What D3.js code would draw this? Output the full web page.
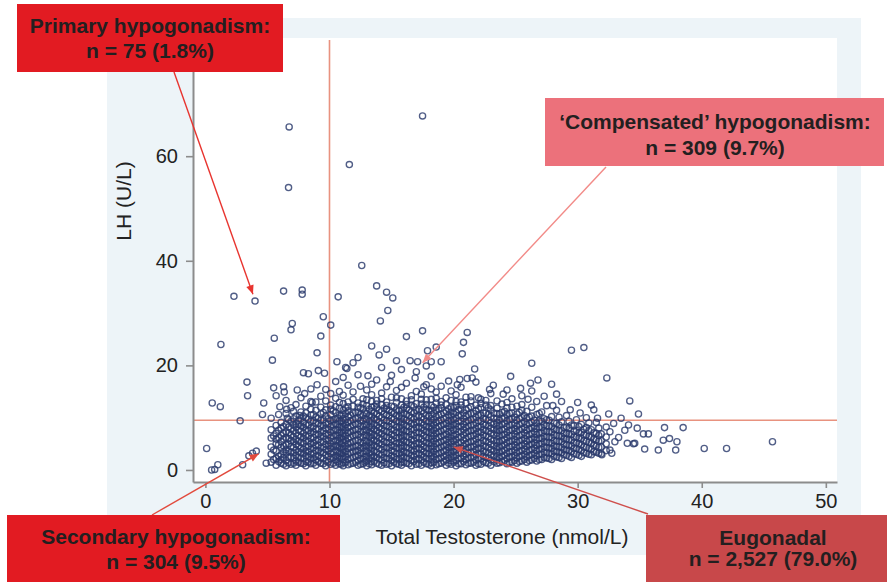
<!DOCTYPE html>
<html><head><meta charset="utf-8">
<script src="https://cdn.jsdelivr.net/npm/d3@7"></script>
<style>html,body{margin:0;padding:0;background:#fff;} svg{display:block;}</style>
</head><body>
<svg id="chart" width="887" height="582"></svg>
<script>
// ---------------- data ----------------
const xTicks = [0, 10, 20, 30, 40, 50];
const yTicks = [0, 20, 40, 60];
const tCut = 10;      // testosterone threshold (nmol/L)
const lhCut = 9.5;    // LH threshold (U/L)
const xTitle = "Total Testosterone (nmol/L)";
const yTitle = "LH (U/L)";
const primaryLabel = ["Primary hypogonadism:", "n = 75 (1.8%)"];
const compensatedLabel = ["\u2018Compensated\u2019 hypogonadism:", "n = 309 (9.7%)"];
const secondaryLabel = ["Secondary hypogonadism:", "n = 304 (9.5%)"];
const eugonadalLabel = ["Eugonadal", "n = 2,527 (79.0%)"];

// individually read points [T, LH]
const outliers = [
 [6.75,65.6],[6.7,54.0],[17.5,67.7],[11.6,58.4],[12.6,39.1],[13.8,35.2],[14.6,34.0],[15.1,32.9],
 [10.7,33.1],[7.8,34.4],[7.8,33.6],[6.3,34.2],[2.3,33.2],[4.0,32.3],[14.7,30.5],[14.1,28.5],
 [17.5,26.6],[9.5,29.3],[10.1,27.7],[7.0,28.0],[6.9,26.8],[1.25,24.0],[5.55,25.2],[9.3,25.6],
 [5.4,21.0],[9.0,22.4],[13.4,23.7],[14.6,23.1],[14.0,22.0],[16.2,25.5],[17.9,22.8],[18.6,23.5],
 [21.1,26.3],[20.8,24.4],[20.7,22.2],[12.3,21.5],[11.9,20.5],[11.4,19.4],[15.4,20.9],[16.5,20.9],
 [17.1,20.7],[18.2,20.7],[19.0,20.7],[10.6,20.7],[11.3,19.6],[3.35,16.8],[3.4,14.2],[0.55,12.8],
 [1.2,12.1],[4.7,12.8],[5.5,15.7],[6.3,15.9],[6.35,14.9],[5.7,14.2],[7.9,18.6],[8.3,18.4],
 [9.1,19.0],[9.6,18.5],[9.0,16.3],[2.8,9.4],[0.1,4.1],[0.5,0.0],[0.75,0.1],[1.0,1.0],
 [3.0,1.0],[3.5,2.7],[3.8,3.2],[4.1,3.6],[4.6,10.6],[5.3,9.9],[6.0,12.1],[6.55,11.6],
 [4.9,1.3],[21.7,19.3],[21.5,17.6],[21.1,17.5],[20.5,17.3],[29.5,22.9],[30.5,23.4],[26.3,20.4],
 [26.2,16.6],[26.8,17.2],[27.9,16.4],[22.0,13.8],[32.35,17.6],[34.2,13.2],[34.9,10.7],[32.5,10.7],
 [31.1,12.4],[31.3,11.5],[28.7,13.1],[29.4,11.5],[37.0,8.1],[38.5,8.1],[34.8,8.0],[35.3,6.9],
 [35.7,6.9],[36.9,5.7],[37.4,6.0],[38.0,5.4],[36.5,3.8],[37.9,3.8],[35.4,4.0],[40.2,4.1],
 [42.0,4.1],[45.7,5.4],[32.6,7.3],[33.0,5.4],[34.0,5.1],[34.5,5.0],[34.6,5.1],[32.6,3.8],
 [31.95,2.9],[32.75,3.2],[34.1,8.6],[33.8,7.6],[33.3,6.2],[32.9,8.9],[24.6,17.9],[23.2,16.2],
 [19.6,17.0],[16.9,17.6],[13.1,18.0],[8.0,14.6],[7.4,15.3],[25.4,15.6],[27.3,14.1],[30.0,12.9],
 [5.9,10.6],[6.6,9.9],[7.1,11.2],[7.6,10.4],[8.6,12.9],[12.5,16.0],[14.9,16.9],[17.6,15.9],
 [20.3,16.3],[22.9,15.4],[24.0,14.5],[26.0,13.5],[28.0,12.3],[30.2,10.9],[31.6,9.9],[33.5,9.9]
];

// dense cluster, part 1: testosterone columns and the LH values estimated in each
const coreT = [5.3,5.7,6.1,6.5,6.9,7.3,7.7,8.1,8.5,8.9,9.3,9.7,10.1,10.5,10.8,11.1,11.5,11.9,12.3,12.7,
 13.0,13.4,13.8,14.2,14.6,15.0,15.4,15.8,16.2,16.6,17.0,17.4,17.8,18.2,18.6,19.0,19.4,19.8,20.2,20.6,
 21.0,21.4,21.8,22.2,22.6,23.0,23.5,23.9,24.3,24.7,25.1,25.5,25.9,26.3,26.7,27.1,27.5,27.9,28.3,28.7,
 29.1,29.5,29.9,30.3,30.7,31.1,31.5,31.9,32.3];
const coreLH = [
 [1.5,3.0,4.4,6.1,7.7],
 [0.9,2.2,3.6,5.0,5.9,7.0,8.5],
 [1.3,2.0,2.9,4.3,5.4,6.6,8.0,9.1],
 [0.8,1.8,3.2,3.9,4.8,6.2,7.3,8.7,10.8,13.3],
 [1.1,2.5,3.4,4.5,5.6,6.7,7.9,9.3,11.9],
 [0.9,1.7,2.8,3.8,4.9,5.8,7.0,8.2,8.9,10.3,12.5],
 [1.3,2.3,3.3,4.1,5.3,6.3,7.4,8.4,9.8,11.1,13.8],
 [0.8,1.6,2.7,3.6,4.4,5.6,6.5,7.7,8.6,10.0,10.9,12.2],
 [1.2,2.1,3.0,4.0,5.0,6.0,7.1,8.0,9.3,10.5,11.6,13.1,15.5],
 [0.9,1.9,2.6,3.7,4.7,5.6,6.8,7.8,9.0,10.1,11.4,13.0],
 [1.3,2.3,3.4,4.2,5.3,6.4,7.2,8.5,9.5,10.7,12.0,14.1],
 [0.8,1.7,2.9,3.9,4.9,5.9,6.9,8.0,8.9,10.3,11.5,13.2,15.4],
 [1.1,2.1,3.1,4.1,5.0,6.2,7.2,8.3,9.4,10.6,11.6,12.4,14.6],
 [0.9,1.9,2.7,3.8,4.7,5.6,6.7,7.7,8.8,9.7,11.0,12.1,13.7,16.9],
 [1.2,2.3,3.2,4.3,5.3,6.1,7.1,8.2,9.3,10.5,11.8,12.9,15.0],
 [0.8,1.4,2.0,2.6,3.3,3.9,4.5,5.2,5.8,6.4,7.0,7.7,8.3,9.0,9.8,10.6,11.4,12.7,14.3,17.7],
 [1.0,2.0,3.0,4.1,5.0,6.0,7.1,8.1,9.1,10.2,11.3,12.1,13.0,16.2],
 [1.3,2.4,3.5,4.4,5.4,6.6,7.5,8.6,9.6,10.9,12.2,13.5,14.9],
 [0.9,1.8,2.8,3.7,4.6,5.7,6.8,7.8,8.8,9.9,11.1,12.0,12.8,18.2],
 [1.2,2.1,3.1,4.2,5.1,6.2,7.3,8.3,9.4,10.4,11.7,12.6,13.6],
 [0.8,1.7,2.6,3.6,4.6,5.5,6.6,7.6,8.6,9.7,10.8,12.3,13.4,15.3],
 [1.0,1.6,2.3,2.9,3.5,4.2,4.8,5.5,6.1,6.8,7.4,8.1,8.8,9.5,10.3,11.2,12.0,13.1,14.4,16.4],
 [1.3,2.4,3.4,4.5,5.5,6.5,7.5,8.5,9.6,10.7,11.9,12.6,13.3,17.2],
 [0.9,1.9,2.9,3.9,4.9,5.9,6.9,7.9,8.9,10.0,11.2,12.5,13.6,14.7,19.6],
 [1.1,2.2,3.2,4.2,5.2,6.3,7.3,8.4,9.4,10.5,11.6,12.3,13.0,15.9],
 [0.8,1.8,2.7,3.7,4.7,5.8,6.8,7.8,8.8,9.9,11.0,12.2,13.9,18.1],
 [1.2,2.1,3.1,4.2,5.1,6.1,7.2,8.2,9.3,10.4,11.5,12.9,13.8,15.2],
 [0.9,1.5,2.2,2.8,3.4,4.1,4.7,5.3,6.0,6.6,7.3,7.9,8.6,9.2,9.9,10.7,11.5,12.4,13.6,15.8,19.2],
 [1.3,2.3,3.3,4.3,5.3,6.4,7.4,8.4,9.5,10.6,11.8,12.5,13.2,16.6],
 [0.8,1.8,2.8,3.8,4.8,5.8,6.8,7.8,8.9,10.0,11.1,12.4,13.4,14.2],
 [1.1,2.0,3.0,4.0,5.0,6.1,7.1,8.1,9.1,10.2,11.4,12.7,15.0,18.8],
 [0.9,1.9,2.9,3.9,4.9,5.9,7.0,8.0,9.0,10.1,11.3,12.6,13.5,14.5],
 [1.2,2.2,3.2,4.2,5.2,6.2,7.3,8.3,9.3,10.4,11.6,12.5,13.4,16.3,19.9],
 [0.8,1.4,2.1,2.7,3.3,4.0,4.6,5.2,5.9,6.5,7.1,7.8,8.4,9.1,9.8,10.6,11.4,12.3,13.5,15.5,17.9],
 [1.0,2.0,3.0,4.0,5.0,6.0,7.0,8.0,9.1,10.2,11.4,12.8,13.7,14.9],
 [1.3,2.3,3.3,4.4,5.4,6.4,7.4,8.5,9.5,10.6,11.8,12.4,13.1,16.0],
 [0.9,1.9,2.8,3.8,4.8,5.8,6.8,7.9,8.9,10.0,11.2,12.5,13.8],
 [1.1,1.8,2.5,3.2,3.9,4.6,5.3,6.0,6.7,7.4,8.1,8.8,9.5,10.3,11.1,12.0,13.3,15.1],
 [0.8,1.8,2.8,3.8,4.8,5.8,6.8,7.8,8.8,9.9,11.0,12.3,13.1,14.4],
 [1.2,2.2,3.2,4.2,5.2,6.3,7.3,8.3,9.3,10.4,11.6,12.4,13.0,15.8],
 [1.0,2.0,3.0,4.0,5.0,6.0,7.1,8.1,9.2,10.3,11.5,12.8,13.9],
 [1.3,2.4,3.4,4.4,5.4,6.5,7.5,8.6,9.6,10.8,12.1,13.2,14.0],
 [0.9,1.9,2.9,3.9,4.9,5.9,6.9,7.9,9.0,10.1,11.3,12.4,16.8],
 [1.1,2.1,3.1,4.1,5.1,6.2,7.2,8.2,9.3,10.5,11.9,12.7,13.5],
 [1.4,2.4,3.4,4.5,5.5,6.5,7.5,8.6,9.7,10.9,12.4,13.3],
 [0.9,1.9,2.9,3.9,4.9,5.9,7.0,8.0,9.0,10.2,11.5,12.3,14.6],
 [1.3,1.9,2.6,3.2,3.9,4.5,5.2,5.8,6.5,7.1,7.8,8.4,9.1,9.9,10.8,11.8,13.2],
 [1.6,2.6,3.6,4.6,5.6,6.7,7.7,8.7,9.8,11.0,12.6],
 [1.2,2.2,3.2,4.2,5.2,6.2,7.2,8.3,9.4,10.6,11.9,12.9,15.3],
 [1.5,2.5,3.5,4.5,5.5,6.5,7.6,8.6,9.7,10.9,12.0,13.6],
 [1.3,2.3,3.3,4.3,5.3,6.4,7.4,8.4,9.5,10.7,12.2],
 [1.7,2.7,3.7,4.7,5.7,6.7,7.8,8.9,10.0,11.4,12.5,14.2],
 [1.5,2.5,3.5,4.5,5.5,6.6,7.6,8.7,9.9,11.2],
 [1.9,2.9,3.9,4.9,5.9,6.9,8.0,9.1,10.3,12.0,15.1],
 [1.7,2.7,3.7,4.7,5.8,6.8,7.9,9.0,10.6,13.1],
 [2.0,3.0,4.0,5.0,6.0,7.1,8.1,9.3,11.1],
 [2.3,3.3,4.3,5.3,6.3,7.3,8.4,9.6,12.3],
 [2.0,3.1,4.1,5.1,6.2,7.2,8.3,10.2],
 [2.5,3.5,4.5,5.5,6.6,7.7,8.9,11.4,14.5],
 [2.2,3.3,4.3,5.4,6.4,7.5,9.2],
 [2.8,3.8,4.8,5.9,7.0,8.2,10.4],
 [2.4,3.5,4.6,5.7,6.8,8.6],
 [3.0,4.1,5.2,6.3,7.6,9.6],
 [2.6,3.7,4.8,6.0,7.2,8.7],
 [3.2,4.3,5.5,6.7,8.1,10.0],
 [2.9,4.0,5.1,6.3,7.7],
 [3.4,4.6,5.8,7.0,9.1],
 [3.1,4.4,5.6,6.9],
 [3.7,5.0,6.3,8.2]
];

// dense cluster, part 2: in-between testosterone columns
const coreT2 = [5.5,5.9,6.3,6.7,7.1,7.5,7.9,8.3,8.7,9.1,9.5,9.9,10.3,10.65,10.95,11.3,11.7,12.1,12.5,12.85,
 13.2,13.6,14.0,14.4,14.8,15.2,15.6,16.0,16.4,16.8,17.2,17.6,18.0,18.4,18.8,19.2,19.6,20.0,20.4,20.8,
 21.2,21.6,22.0,22.4,22.8,23.25,23.7,24.1,24.5,24.9,25.3,25.7,26.1,26.5,26.9,27.3,27.7,28.1,28.5,28.9,
 29.3,29.7,30.1,30.5,30.9,31.3,31.7];
const coreLH2 = [
 [2.0,3.8,6.5],
 [1.6,2.6,4.8,6.2,7.6],
 [1.1,2.4,3.5,4.6,5.9,7.0,8.3],
 [1.4,2.4,3.6,5.0,6.0,7.1,8.2,9.6],
 [1.3,2.3,3.3,4.3,5.4,6.3,7.5,8.6,9.8],
 [1.5,2.4,3.5,4.6,5.5,6.6,7.6,8.7,9.5],
 [1.2,2.2,3.1,4.0,5.1,6.1,7.0,8.2,9.1,10.3],
 [1.5,2.5,3.5,4.5,5.5,6.5,7.5,8.6,9.7],
 [1.3,2.3,3.2,4.2,5.2,6.2,7.3,8.3,9.4,10.6],
 [1.6,2.7,3.7,4.7,5.8,6.8,7.8,8.9,9.9],
 [1.2,2.2,3.3,4.4,5.4,6.4,7.5,8.5,9.6,11.0],
 [1.5,2.6,3.6,4.6,5.6,6.7,7.7,8.8,9.8],
 [1.3,2.4,3.4,4.5,5.5,6.5,7.6,8.6,9.6,11.3],
 [1.6,2.5,3.5,4.5,5.7,6.6,7.6,8.7,9.9],
 [1.1,2.1,3.1,4.0,5.0,6.1,7.2,8.2,9.3,10.4],
 [1.5,2.5,3.5,4.6,5.6,6.5,7.6,8.6,9.6,10.8,11.9],
 [1.2,2.3,3.3,4.3,5.2,6.3,7.3,8.3,9.4,10.5],
 [1.5,2.6,3.6,4.6,5.6,6.7,7.7,8.8,9.8,11.0],
 [1.1,2.2,3.2,4.2,5.3,6.3,7.3,8.4,9.4,10.6,11.9],
 [1.5,2.5,3.6,4.6,5.6,6.7,7.7,8.7,9.8,10.9],
 [1.2,2.2,3.2,4.2,5.2,6.3,7.2,8.2,9.3,10.4,11.6],
 [1.6,2.6,3.6,4.7,5.7,6.7,7.8,8.8,9.8,10.9,12.2],
 [1.1,2.1,3.0,4.1,5.1,6.1,7.1,8.1,9.2,10.3,11.4],
 [1.4,2.4,3.4,4.4,5.4,6.5,7.5,8.5,9.5,10.7,11.8],
 [1.2,2.2,3.2,4.3,5.2,6.2,7.2,8.3,9.3,10.4,11.4],
 [1.5,2.5,3.5,4.5,5.5,6.6,7.6,8.6,9.7,10.8,12.1],
 [1.1,2.1,3.2,4.2,5.2,6.2,7.2,8.2,9.2,10.3,11.3],
 [1.5,2.5,3.5,4.6,5.6,6.6,7.6,8.7,9.7,10.8,12.0],
 [1.2,2.2,3.2,4.2,5.2,6.3,7.3,8.3,9.3,10.4,11.5],
 [1.6,2.6,3.6,4.6,5.6,6.6,7.7,8.7,9.7,10.9,12.1],
 [1.2,2.2,3.2,4.2,5.2,6.2,7.2,8.2,9.3,10.4,11.6],
 [1.5,2.5,3.5,4.5,5.5,6.6,7.6,8.6,9.7,10.8,12.0],
 [1.1,2.1,3.1,4.1,5.1,6.1,7.2,8.2,9.2,10.3,11.4],
 [1.5,2.5,3.5,4.5,5.5,6.5,7.6,8.6,9.6,10.8,12.0],
 [1.2,2.2,3.2,4.2,5.2,6.3,7.3,8.3,9.4,10.5,11.7],
 [1.6,2.6,3.6,4.6,5.6,6.7,7.7,8.7,9.8,10.9],
 [1.3,2.3,3.3,4.3,5.3,6.3,7.3,8.4,9.4,10.5,11.7],
 [1.5,2.5,3.5,4.5,5.5,6.5,7.6,8.6,9.6,10.7,11.9],
 [1.2,2.2,3.2,4.2,5.2,6.2,7.3,8.3,9.3,10.4,11.5],
 [1.6,2.6,3.6,4.6,5.7,6.7,7.7,8.7,9.8,10.9],
 [1.3,2.3,3.3,4.3,5.3,6.3,7.4,8.4,9.4,10.6,11.8],
 [1.5,2.5,3.5,4.5,5.5,6.6,7.6,8.6,9.7,10.8],
 [1.2,2.2,3.2,4.2,5.2,6.3,7.3,8.3,9.4,10.5,11.7],
 [1.6,2.6,3.6,4.6,5.6,6.7,7.7,8.7,9.8,10.9],
 [1.3,2.3,3.3,4.3,5.3,6.3,7.4,8.4,9.5,10.6,11.9],
 [1.6,2.6,3.6,4.6,5.6,6.7,7.7,8.7,9.8,10.9],
 [1.4,2.4,3.4,4.4,5.4,6.5,7.5,8.5,9.5,10.7],
 [1.8,2.8,3.8,4.8,5.8,6.8,7.8,8.9,9.9,11.2],
 [1.5,2.5,3.5,4.5,5.5,6.6,7.6,8.6,9.7,10.8],
 [1.8,2.8,3.8,4.8,5.8,6.9,7.9,8.9,10.1],
 [1.6,2.6,3.6,4.6,5.6,6.6,7.7,8.7,9.8,11.0],
 [2.0,3.0,4.0,5.0,6.0,7.1,8.1,9.2,10.4],
 [1.8,2.8,3.8,4.8,5.8,6.8,7.9,8.9,10.1],
 [2.2,3.2,4.2,5.2,6.2,7.3,8.3,9.5],
 [2.0,3.0,4.0,5.0,6.1,7.1,8.2,9.4,10.8],
 [2.4,3.4,4.4,5.4,6.4,7.5,8.6,9.8],
 [2.2,3.2,4.2,5.2,6.3,7.3,8.4,9.5],
 [2.6,3.6,4.6,5.6,6.7,7.8,9.0],
 [2.4,3.4,4.4,5.5,6.5,7.6,8.6,10.1],
 [2.9,3.9,4.9,6.0,7.0,8.1],
 [2.6,3.7,4.7,5.8,6.9,8.0,9.3],
 [3.1,4.1,5.2,6.3,7.4,8.4],
 [2.8,3.9,5.0,6.1,7.1,8.3],
 [3.3,4.4,5.6,6.7,7.8],
 [3.0,4.1,5.3,6.4,7.5,9.0],
 [3.5,4.7,5.9,7.1],
 [3.2,4.3,5.5,6.6,8.0]
];

// ---------------- drawing ----------------
const svg = d3.select("#chart");
const FONT = "'Liberation Sans', Arial, Helvetica, sans-serif";
const x = d3.scaleLinear().domain([-1, 50.9]).range([193, 837]);
const y = d3.scaleLinear().domain([-2.3, 82.6]).range([482, 38]);

// panels
svg.append("rect").attr("x", 107).attr("y", 18).attr("width", 754).attr("height", 537).attr("fill", "#edf4f8");
svg.append("rect").attr("x", x.range()[0]).attr("y", y.range()[1])
  .attr("width", x.range()[1] - x.range()[0]).attr("height", y.range()[0] - y.range()[1]).attr("fill", "#ffffff");

// threshold lines
const refColor = "#e8927f";
svg.append("line").attr("x1", x(tCut)).attr("x2", x(tCut)).attr("y1", y.range()[1] + 2).attr("y2", y.range()[0])
  .attr("stroke", refColor).attr("stroke-width", 1.6);
svg.append("line").attr("x1", x.range()[0]).attr("x2", x.range()[1]).attr("y1", y(lhCut)).attr("y2", y(lhCut))
  .attr("stroke", refColor).attr("stroke-width", 1.6);

// points
const pts = outliers
  .concat(coreT.flatMap((t, i) => coreLH[i].map(v => [t, v])))
  .concat(coreT2.flatMap((t, i) => (coreLH2[i] || []).map(v => [t, v])));
svg.append("g").selectAll("circle").data(pts).join("circle")
  .attr("cx", d => x(d[0])).attr("cy", d => y(d[1])).attr("r", 3.1)
  .attr("fill", "none").attr("stroke", "#2b3b6d").attr("stroke-width", 1.35).attr("stroke-opacity", 0.82);

// axes
function styleAxis(g) {
  g.select(".domain").attr("stroke", "#8c8c8c").attr("stroke-width", 2);
  g.selectAll(".tick line").attr("stroke", "#8c8c8c").attr("stroke-width", 1.6);
  g.selectAll(".tick text").attr("fill", "#222").style("font-family", FONT).style("font-size", "20px");
}
svg.append("g").attr("transform", "translate(0," + y.range()[0] + ")")
  .call(d3.axisBottom(x).tickValues(xTicks).tickSize(6).tickSizeOuter(0).tickPadding(6)).call(styleAxis);
svg.append("g").attr("transform", "translate(" + x.range()[0] + ",0)")
  .call(d3.axisLeft(y).tickValues(yTicks).tickSize(7).tickSizeOuter(0).tickPadding(8)).call(styleAxis);

// axis titles
svg.append("text").attr("x", 502).attr("y", 544).attr("text-anchor", "middle")
  .style("font-family", FONT).style("font-size", "21px").attr("fill", "#222").text(xTitle);
svg.append("text").attr("transform", "translate(131,201) rotate(-90)").attr("text-anchor", "middle")
  .style("font-family", FONT).style("font-size", "21px").attr("fill", "#222").text(yTitle);

// arrows
function arrow(x0, y0, x1, y1, color) {
  svg.append("line").attr("x1", x0).attr("y1", y0).attr("x2", x1).attr("y2", y1)
    .attr("stroke", color).attr("stroke-width", 1.4);
  const a = Math.atan2(y1 - y0, x1 - x0), L = 9, hw = 3.8;
  const bx = x1 - L * Math.cos(a), by = y1 - L * Math.sin(a);
  const px = -Math.sin(a) * hw, py = Math.cos(a) * hw;
  svg.append("path").attr("d", `M${x1},${y1}L${bx + px},${by + py}L${bx - px},${by - py}Z`).attr("fill", color);
}

// boxes
function labelBox(x0, y0, w, h, fill, lines, cx, baselines) {
  svg.append("rect").attr("x", x0).attr("y", y0).attr("width", w).attr("height", h).attr("fill", fill);
  lines.forEach((s, i) => {
    svg.append("text").attr("x", cx).attr("y", baselines[i]).attr("text-anchor", "middle")
      .style("font-family", FONT).style("font-size", "21px").style("font-weight", "bold")
      .attr("fill", "#231f20").text(s);
  });
}

arrow(174, 72, x(3.83), y(33.6), "#e8342f");
arrow(606, 167, x(17.5), y(20.5), "#f28b88");
arrow(152, 515, x(4.3), y(3.1), "#e24a3d");
arrow(648, 514, x(20.0), y(4.4), "#cf4f4c");

labelBox(17, 4, 266, 68, "#e21b22", primaryLabel, 150, [33, 58]);
labelBox(545, 98, 339, 68, "#ec717b", compensatedLabel, 715, [129, 155]);
labelBox(7, 515, 333, 80, "#e21b22", secondaryLabel, 176, [544, 569]);
labelBox(646, 515, 260, 80, "#c8484a", eugonadalLabel, 773, [545, 566]);
</script>
</body></html>
